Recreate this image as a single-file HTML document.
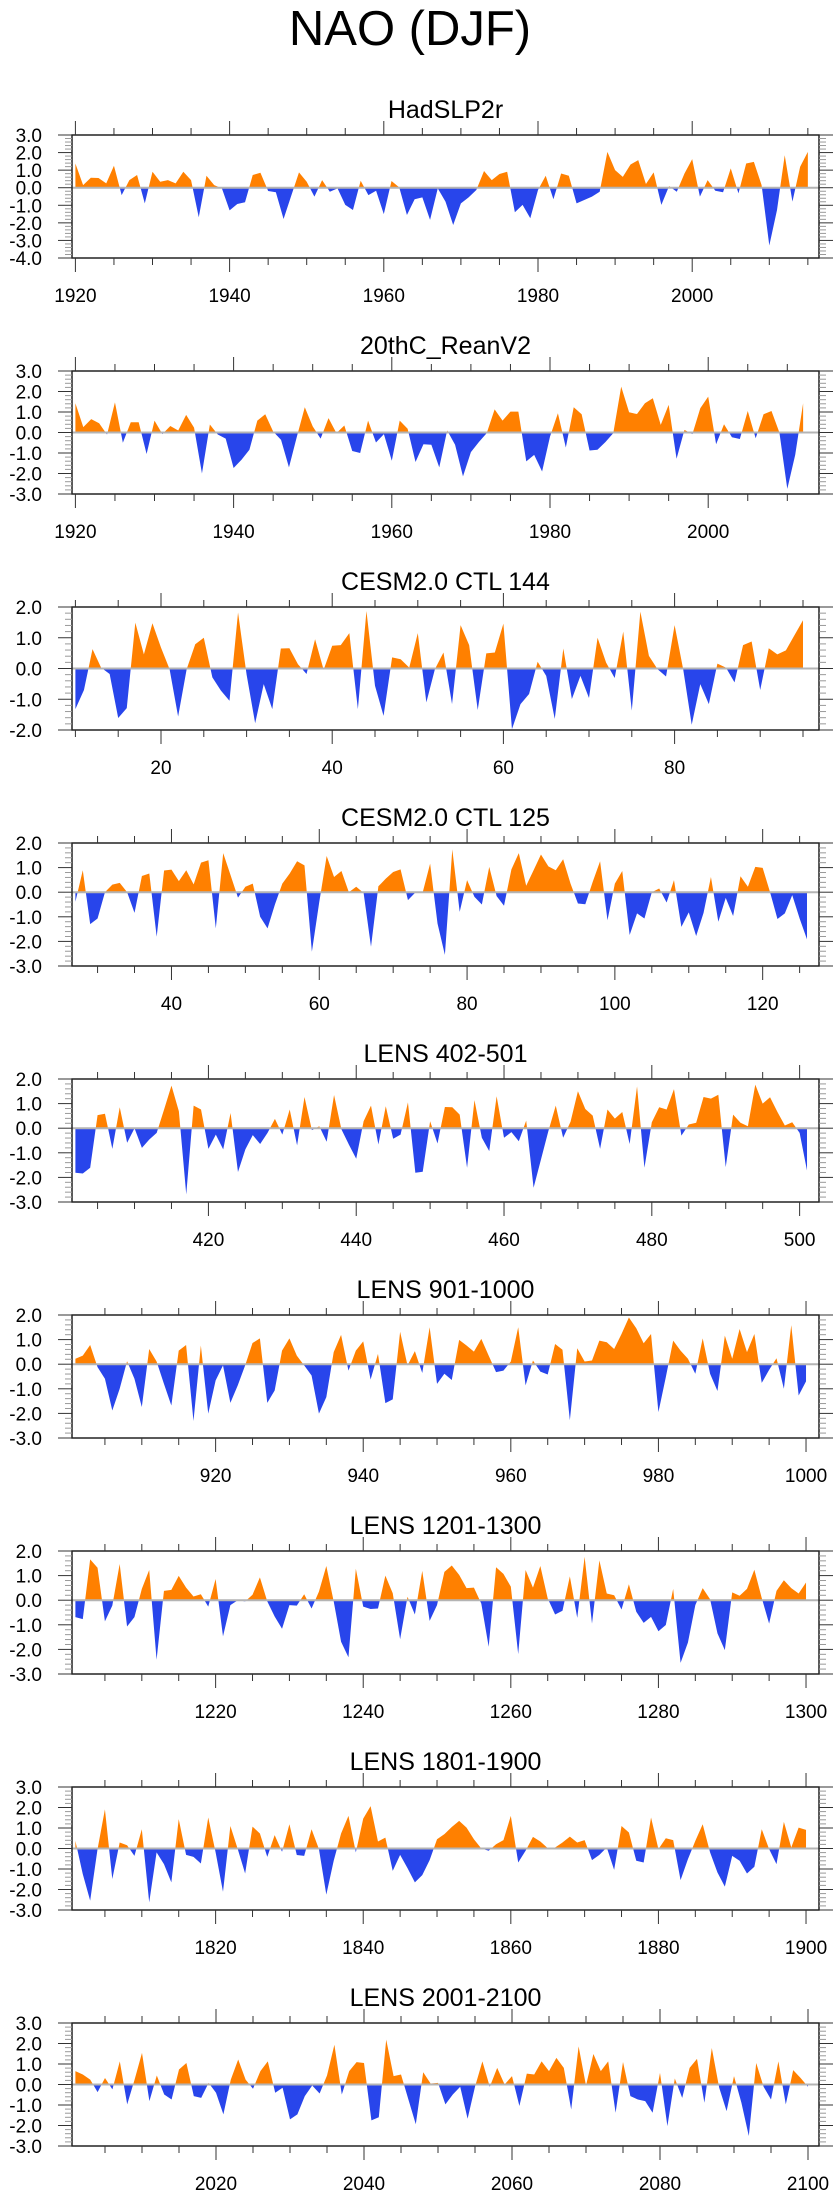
<!DOCTYPE html>
<html>
<head>
<meta charset="utf-8">
<style>
html,body{margin:0;padding:0;background:#fff;}
body{width:840px;height:2200px;overflow:hidden;font-family:"Liberation Sans",Arial,sans-serif;}
svg{display:block;}
</style>
</head>
<body>
<svg id="chart" width="840" height="2200" viewBox="0 0 840 2200" xmlns="http://www.w3.org/2000/svg">
  <text x="410" y="45" font-size="49" text-anchor="middle" font-family="Liberation Sans, sans-serif" fill="#000">NAO (DJF)</text>
</svg>
<script>
const panelTitles = ["HadSLP2r","20thC_ReanV2","CESM2.0 CTL 144","CESM2.0 CTL 125","LENS 402-501","LENS 901-1000","LENS 1201-1300","LENS 1801-1900","LENS 2001-2100"];
const startYears = [1920,1920,10,27,402,901,1201,1801,2001];
const yMins = [-4,-3,-2,-3,-3,-3,-3,-3,-3];
const yMaxs = [3,3,2,2,2,2,2,3,3];
const yTickLabels1 = ["-4.0","-3.0","-2.0","-1.0","0.0","1.0","2.0","3.0"];

const hadslp2r = [1.38,0.15,0.57,0.55,0.25,1.25,-0.42,0.43,0.72,-0.89,0.91,0.34,0.43,0.25,0.91,0.43,-1.68,0.68,0.15,-0.04,-1.29,-0.93,-0.83,0.72,0.85,-0.19,-0.26,-1.78,-0.45,0.87,0.34,-0.51,0.43,-0.23,-0.04,-0.98,-1.27,0.4,-0.42,-0.17,-1.5,0.38,0.02,-1.55,-0.66,-0.55,-1.83,-0.04,-0.79,-2.12,-0.89,-0.55,-0.13,0.95,0.43,0.78,0.91,-1.4,-0.98,-1.74,-0.13,0.68,-0.66,0.81,0.68,-0.89,-0.7,-0.51,-0.23,2.04,1.0,0.62,1.32,1.57,0.21,0.87,-0.98,0.09,-0.23,0.81,1.63,-0.51,0.43,-0.17,-0.26,1.1,-0.32,1.38,1.47,0.15,-3.29,-1.27,1.85,-0.79,1.19,2.04];
const reanv2 = [1.43,0.26,0.65,0.45,-0.1,1.47,-0.5,0.5,0.5,-1.05,0.58,-0.08,0.32,0.1,0.86,0.24,-2.0,0.39,-0.1,-0.3,-1.73,-1.33,-0.84,0.58,0.89,0.05,-0.36,-1.7,-0.2,1.23,0.3,-0.3,0.7,-0.03,0.34,-0.9,-1.0,0.58,-0.49,-0.08,-1.38,0.58,0.18,-1.44,-0.57,-0.6,-1.7,0.1,-0.6,-2.14,-0.96,-0.47,-0.03,1.13,0.58,1.02,1.02,-1.41,-1.09,-1.9,-0.2,0.94,-0.73,1.23,0.89,-0.88,-0.84,-0.47,-0.03,2.24,0.99,0.9,1.43,1.67,0.37,1.35,-1.28,0.13,-0.08,1.18,1.75,-0.57,0.4,-0.23,-0.32,1.05,-0.28,0.89,1.05,0.0,-2.75,-1.09,1.43];
const ctl144 = [-1.32,-0.7,0.63,0.03,-0.18,-1.61,-1.29,1.49,0.46,1.47,0.68,-0.02,-1.56,-0.02,0.79,1.0,-0.29,-0.72,-1.05,1.82,-0.2,-1.78,-0.51,-1.32,0.65,0.66,0.14,-0.18,0.95,-0.04,0.74,0.76,1.15,-1.32,1.87,-0.56,-1.54,0.36,0.3,0.03,1.15,-1.1,-0.02,0.52,-1.16,1.41,0.76,-1.35,0.49,0.52,1.46,-1.97,-1.16,-0.83,0.22,-0.24,-1.64,0.65,-0.99,-0.24,-0.96,1.0,0.19,-0.31,1.2,-1.37,1.85,0.41,-0.02,-0.26,1.41,-0.02,-1.83,-0.51,-1.16,0.16,0.03,-0.45,0.76,0.88,-0.7,0.66,0.46,0.59,1.08,1.57];
const ctl125 = [-0.39,0.89,-1.3,-1.07,0,0.31,0.38,0,-0.84,0.66,0.76,-1.81,0.88,0.92,0.45,0.89,0.32,1.2,1.3,-1.47,1.59,0.69,-0.22,0.22,0.35,-1.0,-1.47,-0.5,0.35,0.76,1.26,1.09,-2.42,-0.4,1.47,0.62,0.86,0,0.22,-0.03,-2.22,0.24,0.55,0.82,0.93,-0.32,-0.01,0,1.16,-1.27,-2.55,1.74,-0.8,0.49,-0.19,-0.5,1.03,-0.16,-0.55,0.93,1.59,0.26,0.89,1.53,1.05,0.89,1.34,0.35,-0.46,-0.49,0.42,1.26,-1.14,0.35,0.86,-1.74,-0.86,-1.07,0,0.15,-0.42,0.49,-1.41,-0.82,-1.78,-0.84,0.62,-1.2,-0.23,-0.97,0.65,0.22,1.03,0.99,0,-1.09,-0.86,-0.12,-1.07,-1.92];
const lens402 = [-1.81,-1.84,-1.61,0.53,0.59,-0.84,0.85,-0.59,0,-0.8,-0.46,-0.19,0.76,1.73,0.69,-2.69,0.92,0.76,-0.84,-0.26,-0.86,0.62,-1.78,-0.86,-0.28,-0.64,-0.19,0.38,-0.26,0.76,-0.7,1.27,-0.08,0.08,-0.55,1.35,-0.05,-0.66,-1.24,0.28,0.92,-0.66,0.89,-0.43,-0.26,1.05,-1.81,-1.77,0.28,-0.62,0.86,0.85,0.55,-1.61,1.14,-0.39,-0.93,1.3,-0.39,-0.16,-0.53,0.31,-2.42,-1.27,-0.12,0.92,-0.39,0.26,1.5,0.78,0.51,-0.84,0.76,0.39,0.66,-0.64,1.7,-1.61,0.24,0.85,0.76,1.59,-0.3,0.15,0.22,1.27,1.2,1.36,-1.58,0.55,0.22,0.08,1.77,1.0,1.26,0.66,0.11,0.24,-0.19,-1.72];
const lens901 = [0.22,0.35,0.78,-0.12,-0.59,-1.88,-1.0,0.12,-0.59,-1.74,0.62,0.11,-0.8,-1.68,0.55,0.78,-2.31,0.76,-2.01,-0.66,-0.05,-1.57,-0.86,-0.05,0.86,1.05,-1.57,-1.07,0.55,1.05,0.35,-0.05,-0.46,-2.01,-1.34,0.49,1.19,-0.26,0.55,0.93,-0.62,0.42,-1.58,-1.43,1.32,-0.05,0.53,-0.36,1.5,-0.8,-0.39,-0.64,0.99,0.76,0.51,1.03,0.35,-0.32,-0.26,0.11,1.5,-0.86,0.15,-0.3,-0.42,0.82,0.59,-2.28,0.65,0.11,0.15,0.96,0.89,0.62,1.23,1.9,1.46,0.85,1.23,-1.95,-0.53,0.96,0.55,0.22,-0.39,1.05,-0.39,-1.09,1.16,0.22,1.43,0.49,1.23,-0.76,-0.23,0.24,-1.0,1.59,-1.27,-0.7];
const lens1201 = [-0.69,-0.77,1.66,1.32,-0.86,-0.22,1.47,-1.07,-0.69,0.46,1.23,-2.42,0.38,0.42,0.99,0.51,0.15,0.24,-0.26,0.86,-1.47,-0.2,0.0,-0.05,0.22,0.93,-0.05,-0.66,-1.16,-0.2,-0.22,0.24,-0.34,0.35,1.39,-0.05,-1.69,-2.32,1.28,-0.26,-0.36,-0.34,1.0,0.28,-1.59,0.14,-0.58,1.19,-0.84,-0.2,1.15,1.41,1.03,0.49,0.51,-0.14,-1.89,1.34,1.07,0.55,-2.19,1.23,0.51,1.39,0.07,-0.58,-0.43,0.97,-0.72,1.76,-0.95,1.62,0.27,0.2,-0.38,0.65,-0.47,-0.92,-0.68,-1.26,-1.01,0.46,-2.55,-1.72,-0.2,0.49,0.04,-1.35,-2.03,0.32,0.18,0.46,1.24,0.09,-0.95,0.38,0.81,0.49,0.27,0.72];
const lens1801 = [0.37,-1.25,-2.54,-0.03,1.91,-1.49,0.29,0.16,-0.36,0.94,-2.63,-0.19,-0.76,-1.65,1.43,-0.31,-0.41,-0.73,1.51,-0.19,-2.11,1.1,-0.03,-1.22,1.07,0.73,-0.41,0.65,-0.16,1.18,-0.32,-0.36,0.94,-0.03,-2.25,-0.6,0.73,1.59,-0.19,1.46,2.07,0.34,0.53,-1.09,-0.31,-0.96,-1.65,-1.3,-0.57,0.45,0.7,1.05,1.35,1.02,0.45,0,-0.11,0.21,0.41,1.59,-0.68,-0.11,0.57,0.34,0.02,0.05,0.29,0.58,0.29,0.41,-0.57,-0.31,0.05,-1.04,1.1,0.78,-0.6,-0.68,1.51,-0.03,0.5,0.41,-1.54,-0.52,0.37,1.18,-0.19,-1.17,-1.86,-0.36,-0.6,-1.22,-0.89,0.94,-0.03,-0.76,1.3,0.05,1.02,0.91];
const lens2001 = [0.65,0.49,0.24,-0.37,0.32,-0.24,1.13,-0.97,0.24,1.54,-0.81,0.44,-0.49,-0.73,0.73,1.05,-0.57,-0.65,0.08,-0.4,-1.46,0.24,1.22,0.24,-0.21,0.65,1.13,-0.4,-0.16,-1.7,-1.46,-0.57,-0.05,-0.44,0.44,1.94,-0.49,0.65,1.09,1.05,-1.75,-1.6,2.19,0.41,0.49,-0.73,-1.94,0.6,0.05,0.08,-0.97,-0.49,-0.11,-1.67,-0.11,1.13,-0.11,0.81,0,0.41,-1.05,0.53,0.49,1.13,0.65,1.3,0.81,-1.22,1.86,-0.05,1.49,0.65,1.13,-1.38,1.1,-0.57,-0.73,-0.81,-1.38,0.57,-2.03,0.29,-0.65,0.81,1.25,-0.89,1.78,-0.16,-1.3,0.41,-0.89,-2.51,1.05,-0.11,-0.73,1.13,-0.97,0.7,0.32,-0.11];

const seriesList = [hadslp2r,reanv2,ctl144,ctl125,lens402,lens901,lens1201,lens1801,lens2001];
const panelNames = ["hadslp2r","20thc-reanv2","cesm2-ctl-144","cesm2-ctl-125","lens-402-501","lens-901-1000","lens-1201-1300","lens-1801-1900","lens-2001-2100"];

// layout (not data)
const pxPerYear = [7.71,7.91,8.56,7.39,7.39,7.38,7.38,7.38,7.40];
const FL = 72, FR = 819, FIRSTX = 75.4, TOP0 = 135, DY = 236, FH = 123;
const NS = "http://www.w3.org/2000/svg";
const svg = document.getElementById('chart');

function mk(tag, attrs, parent) {
  const e = document.createElementNS(NS, tag);
  for (const k in attrs) e.setAttribute(k, attrs[k]);
  (parent || svg).appendChild(e);
  return e;
}

for (let p = 0; p < 9; p++) {
  const vals = seriesList[p];
  const start = startYears[p];
  const ppy = pxPerYear[p];
  const top = TOP0 + DY * p, bot = top + FH;
  const ymin = yMins[p], ymax = yMaxs[p];
  const xmin = start - (FIRSTX - FL) / ppy;
  const xmax = xmin + (FR - FL) / ppy;
  const xs = yr => FL + (yr - xmin) * ppy;
  const ys = v => bot - (v - ymin) / (ymax - ymin) * FH;
  const y0 = ys(0);

  const g = mk('g', {});
  
  

  const t = mk('text', {x: (FL + FR) / 2, y: top - 17, 'font-size': 25, 'text-anchor': 'middle', fill: '#000'}, g);
  
  
  t.textContent = panelTitles[p];

  // area fill
  const cid = 'c' + p;
  const defs = mk('defs', {}, g);
  const cpU = mk('clipPath', {id: cid + 'u'}, defs);
  mk('rect', {x: FL, y: top, width: FR - FL, height: y0 - top}, cpU);
  const cpD = mk('clipPath', {id: cid + 'd'}, defs);
  mk('rect', {x: FL, y: y0, width: FR - FL, height: bot - y0}, cpD);
  let d = 'M' + xs(start).toFixed(2) + ',' + y0.toFixed(2);
  vals.forEach((v, i) => { d += 'L' + xs(start + i).toFixed(2) + ',' + ys(v).toFixed(2); });
  d += 'L' + xs(start + vals.length - 1).toFixed(2) + ',' + y0.toFixed(2) + 'Z';
  const pos = mk('path', {d: d, fill: '#ff8000', 'clip-path': 'url(#' + cid + 'u)'}, g);
  
  
  const neg = mk('path', {d: d, fill: '#2845eb', 'clip-path': 'url(#' + cid + 'd)'}, g);
  
  

  const zl = mk('line', {x1: FL, x2: FR, y1: y0, y2: y0, stroke: '#b4b4b4', 'stroke-width': 2}, g);
  
  

  const fr = mk('rect', {x: FL, y: top, width: FR - FL, height: FH, fill: 'none', stroke: '#222', 'stroke-width': 1.5}, g);
  
  

  // x ticks
  for (let yr = Math.ceil(xmin / 5) * 5; yr <= xmax; yr += 5) {
    const x = xs(yr);
    const major = yr % 20 === 0;
    const L = major ? 14 : 7;
    mk('line', {x1: x, x2: x, y1: bot, y2: bot + L, stroke: '#333', 'stroke-width': 1}, g);
    mk('line', {x1: x, x2: x, y1: top, y2: top - L, stroke: '#333', 'stroke-width': 1}, g);
    if (major) {
      const lb = mk('text', {x: x, y: bot + 44, 'font-size': 19, 'text-anchor': 'middle', fill: '#000'}, g);
      
      
      lb.textContent = String(yr);
    }
  }
  // y ticks
  for (let k = Math.round(ymin * 5); k <= Math.round(ymax * 5); k++) {
    const v = k / 5, y = ys(v);
    const major = k % 5 === 0;
    const L = major ? 14 : 7;
    mk('line', {x1: FL, x2: FL - L, y1: y, y2: y, stroke: major ? '#333' : '#999', 'stroke-width': 1}, g);
    mk('line', {x1: FR, x2: FR + L, y1: y, y2: y, stroke: major ? '#333' : '#999', 'stroke-width': 1}, g);
    if (major) {
      const lb = mk('text', {x: 42, y: y + 7, 'font-size': 19, 'text-anchor': 'end', fill: '#000'}, g);
      
      
      lb.textContent = v.toFixed(1);
    }
  }
}
</script>
</body>
</html>
